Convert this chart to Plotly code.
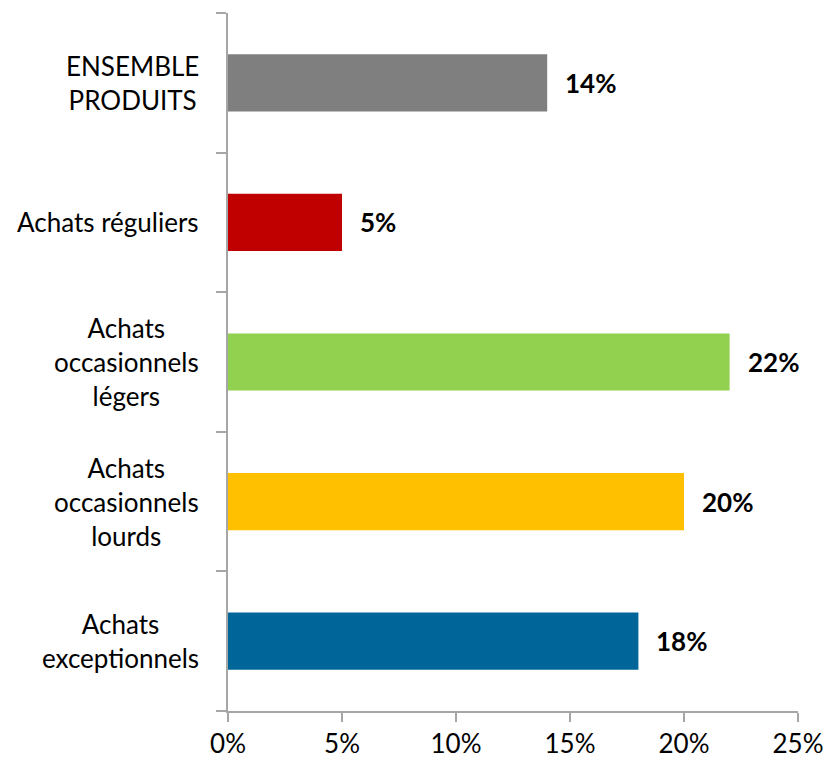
import plotly.graph_objects as go

# Share of purchases by buyer segment
categories = [
    "ENSEMBLE<br>PRODUITS",
    "Achats réguliers",
    "Achats<br>occasionnels<br>légers",
    "Achats<br>occasionnels<br>lourds",
    "Achats<br>exceptionnels",
]
values = [14, 5, 22, 20, 18]
value_labels = ["14%", "5%", "22%", "20%", "18%"]
bar_colors = ["#7F7F7F", "#C00000", "#92D050", "#FFC000", "#006699"]
x_ticks = [0, 5, 10, 15, 20, 25]
x_tick_labels = ["0%", "5%", "10%", "15%", "20%", "25%"]

FONT = "Lato, 'Open Sans', sans-serif"
FONT_SIZE = 26
AXIS_GREY = "#A6A6A6"

fig = go.Figure(
    go.Bar(
        x=values,
        y=categories,
        orientation="h",
        marker=dict(color=bar_colors, line=dict(width=0)),
        width=0.41,
        hoverinfo="skip",
    )
)

# Bold value labels to the right of each bar
for cat, val, lab in zip(categories, values, value_labels):
    fig.add_annotation(
        x=val, y=cat, xref="x", yref="y",
        text=f"<b>{lab}</b>", showarrow=False,
        xanchor="left", yanchor="middle", xshift=16,
        font=dict(family=FONT, size=FONT_SIZE, color="#000000"),
    )

# Centered category labels left of the axis
for cat in categories:
    fig.add_annotation(
        x=0, y=cat, xref="paper", yref="y",
        text=cat, showarrow=False, align="center",
        xanchor="right", yanchor="middle", xshift=-27,
        font=dict(family=FONT, size=FONT_SIZE, color="#000000"),
    )

fig.update_layout(
    width=826, height=758,
    margin=dict(l=228, r=28, t=13, b=47, autoexpand=False),
    paper_bgcolor="white", plot_bgcolor="white",
    showlegend=False,
    font=dict(family=FONT, size=FONT_SIZE, color="#000000"),
)

fig.update_xaxes(
    range=[0, 25],
    tickvals=x_ticks, ticktext=x_tick_labels,
    showgrid=False, zeroline=False, automargin=False,
    showline=True, linecolor=AXIS_GREY, linewidth=1.5,
    ticks="outside", ticklen=9, tickcolor=AXIS_GREY, tickwidth=1.5,
    tickfont=dict(family=FONT, size=FONT_SIZE, color="#000000"),
)

fig.update_yaxes(
    type="category",
    categoryorder="array", categoryarray=categories[::-1],
    showticklabels=False, automargin=False,
    showgrid=False, zeroline=False,
    showline=True, linecolor=AXIS_GREY, linewidth=1.5,
    ticks="outside", tickson="boundaries", ticklen=10,
    tickcolor=AXIS_GREY, tickwidth=1.5,
)

fig.write_html("out.html")
